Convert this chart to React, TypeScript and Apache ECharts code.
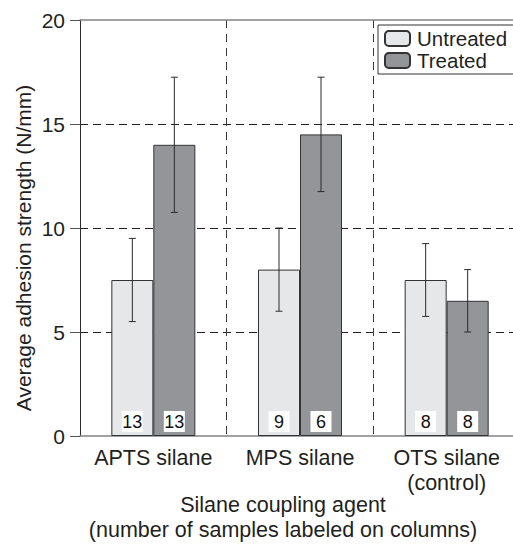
import React, { useEffect, useRef } from "react";
import * as echarts from "echarts";

// Silane treatment groups and measured adhesion strength (N/mm)
const categories = ["APTS silane", "MPS silane", "OTS silane\n(control)"];
const untreatedMean = [7.5, 8, 7.5];
const untreatedErr = [2, 2, 1.75];
const treatedMean = [14, 14.5, 6.5];
const treatedErr = [3.25, 2.75, 1.5];
// number of samples per column
const untreatedN = [13, 9, 8];
const treatedN = [13, 6, 8];
const yTicks = { min: 0, max: 20, interval: 5 };

const FONT = "'Liberation Sans', Arial, Helvetica, sans-serif";
const INK = "#231f20";
const BAR_WIDTH = 42;

function errorSeries(name: string, mean: number[], err: number[], side: number) {
  return {
    name: name + " error",
    type: "custom",
    z: 4,
    silent: true,
    data: mean.map((m, i) => [i, m, m - err[i], m + err[i]]),
    renderItem: (_params: any, api: any) => {
      const idx = api.value(0);
      const lo = api.coord([idx, api.value(2)]);
      const hi = api.coord([idx, api.value(3)]);
      const x = lo[0] + (side * BAR_WIDTH) / 2;
      const cap = 3.5;
      const style = { stroke: "#2b2b2b", lineWidth: 1 };
      return {
        type: "group",
        children: [
          { type: "line", shape: { x1: x, y1: hi[1], x2: x, y2: lo[1] }, style },
          { type: "line", shape: { x1: x - cap, y1: hi[1], x2: x + cap, y2: hi[1] }, style },
          { type: "line", shape: { x1: x - cap, y1: lo[1], x2: x + cap, y2: lo[1] }, style },
        ],
      };
    },
  };
}

function countLabel(counts: number[]) {
  return {
    show: true,
    position: "insideBottom",
    distance: 4,
    formatter: (p: any) => String(counts[p.dataIndex]),
    fontFamily: FONT,
    fontSize: 18,
    color: "#111",
    backgroundColor: "#ffffff",
    width: 21,
    height: 21,
    lineHeight: 21,
    align: "center",
    padding: 0,
  };
}

export default function App() {
  const ref = useRef<HTMLDivElement>(null);

  useEffect(() => {
    if (!ref.current) return;
    const chart = echarts.init(ref.current, null, { renderer: "svg" });
    chart.setOption({
      animation: false,
      textStyle: { fontFamily: FONT, color: INK },
      grid: { left: 80, top: 20, bottom: 109, right: 0 },
      legend: {
        orient: "vertical",
        left: 378,
        top: 25,
        padding: [3, 40, 3, 6],
        itemGap: 1,
        itemWidth: 25,
        itemHeight: 15,
        backgroundColor: "#ffffff",
        borderColor: "#333",
        borderWidth: 1,
        borderRadius: 0,
        textStyle: { fontFamily: FONT, fontSize: 20.5, color: INK, lineHeight: 20, padding: [0, 0, 0, 2] },
        data: ["Untreated", "Treated"],
      },
      xAxis: [
        {
          type: "category",
          data: categories,
          axisLine: { lineStyle: { color: "#808285", width: 1.5 } },
          axisTick: { show: false },
          axisLabel: {
            interval: 0,
            hideOverlap: false,
            fontFamily: FONT,
            fontSize: 21.5,
            color: INK,
            margin: 9,
            lineHeight: 25,
          },
          splitLine: {
            show: true,
            interval: 0,
            lineStyle: { color: "#3a3a3a", type: [8, 6], width: 1 },
          },
        },
        {
          type: "category",
          position: "top",
          data: categories,
          axisLine: { lineStyle: { color: "#808285", width: 1.5 } },
          axisTick: { show: false },
          axisLabel: { show: false },
          splitLine: { show: false },
        },
      ],
      yAxis: {
        type: "value",
        min: yTicks.min,
        max: yTicks.max,
        interval: yTicks.interval,
        axisLine: { show: true, lineStyle: { color: "#2b2b2b", width: 1 } },
        axisTick: { show: true, length: 10, lineStyle: { color: "#555" } },
        axisLabel: { fontFamily: FONT, fontSize: 21, color: INK, margin: 15 },
        splitLine: {
          show: true,
          showMinLine: false,
          showMaxLine: false,
          lineStyle: { color: "#231f20", type: [8, 5], width: 1 },
        },
      },
      graphic: [
        {
          type: "text",
          x: 23,
          y: 248,
          rotation: Math.PI / 2,
          style: {
            text: "Average adhesion strength (N/mm)",
            font: `21px ${FONT}`,
            fill: INK,
            align: "center",
            verticalAlign: "middle",
          },
        },
        {
          type: "text",
          x: 283,
          y: 517,
          style: {
            text: "Silane coupling agent\n(number of samples labeled on columns)",
            font: `21.5px ${FONT}`,
            lineHeight: 25,
            fill: INK,
            align: "center",
            verticalAlign: "middle",
          },
        },
      ],
      series: [
        {
          name: "Untreated",
          type: "bar",
          data: untreatedMean,
          barWidth: BAR_WIDTH,
          barGap: "0%",
          itemStyle: { color: "#e6e7e8", borderColor: "#333", borderWidth: 1 },
          label: countLabel(untreatedN),
        },
        {
          name: "Treated",
          type: "bar",
          data: treatedMean,
          barWidth: BAR_WIDTH,
          barGap: "0%",
          itemStyle: { color: "#939598", borderColor: "#333", borderWidth: 1 },
          label: countLabel(treatedN),
        },
        errorSeries("Untreated", untreatedMean, untreatedErr, -1),
        errorSeries("Treated", treatedMean, treatedErr, 1),
      ],
    });
    return () => chart.dispose();
  }, []);

  // The plot runs slightly past the right edge of the window, so the
  // last category boundary and the legend's right border are cut off.
  return (
    <div
      ref={ref}
      style={{ position: "fixed", left: 0, top: 0, width: 520, height: 545, background: "#fff" }}
    />
  );
}
